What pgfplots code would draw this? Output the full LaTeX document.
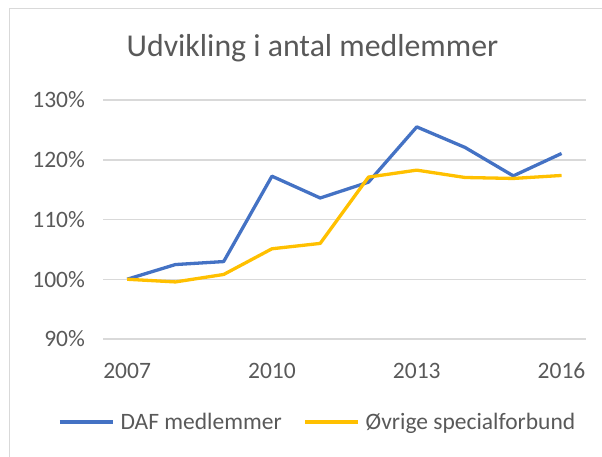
\documentclass[border=0pt]{standalone}
\usepackage{pgfplots}
\pgfplotsset{compat=1.18}
\usepackage{fontspec}
\setmainfont{Carlito}
\definecolor{daf}{HTML}{4472C4}
\definecolor{ovr}{HTML}{FFC000}
\definecolor{txt}{HTML}{595959}
\definecolor{grd}{HTML}{D9D9D9}
\begin{document}
\begin{tikzpicture}
\useasboundingbox (0,0) rectangle (602bp,457bp);
\draw[grd, line width=1bp] (9bp,448bp) rectangle (650bp,-50bp);
\begin{axis}[
  at={(103bp,118bp)}, anchor=south west,
  scale only axis, width=482.7bp, height=239bp,
  xmin=2006.5, xmax=2016.5, ymin=90, ymax=130,
  xtick={2007,2010,2013,2016},
  ytick={90,100,110,120,130},
  axis line style={draw=none},
  major tick length=0pt,
  ymajorgrids, grid style={grd, line width=1.5bp},
  /pgf/number format/assume math mode=true,
  /pgf/number format/.cd, 1000 sep={}, /pgfplots/.cd,
  yticklabel={\pgfmathprintnumber{\tick}\%},
  tick label style={font=\fontsize{23.5bp}{26bp}\selectfont, text=txt},
  xticklabel style={text height=15bp, text depth=0bp, yshift=-21bp},
  yticklabel style={xshift=-14.6bp},
  title={Udvikling i antal medlemmer},
  title style={at={(axis description cs:0.434,1.155)}, anchor=base, font=\fontsize{31.8bp}{34bp}\selectfont, text=txt},
  legend columns=2,
  legend style={draw=none, fill=none, inner sep=0pt, at={(axis description cs:-0.0931,-0.3475)}, anchor=west,
    font=\fontsize{23.5bp}{26bp}\selectfont, text=txt, nodes={inner xsep=0pt},
    /tikz/every odd column/.append style={column sep=6bp},
    /tikz/every even column/.append style={column sep=21.7bp}},
  legend image code/.code={\draw[#1] (0bp,0bp) -- (53bp,0bp);},
]
\addplot[daf, line width=3.3bp, line join=round] coordinates {
(2007,100) (2008,102.46) (2009,102.96) (2010,117.25) (2011,113.6)
(2012,116.25) (2013,125.5) (2014,122.06) (2015,117.3) (2016,121.05)};
\addlegendentry{DAF medlemmer}
\addplot[ovr, line width=3.3bp, line join=round] coordinates {
(2007,100) (2008,99.55) (2009,100.8) (2010,105.1) (2011,106.0)
(2012,117.1) (2013,118.26) (2014,117.03) (2015,116.87) (2016,117.37)};
\addlegendentry{Øvrige specialforbund}
\end{axis}
\end{tikzpicture}
\end{document}
